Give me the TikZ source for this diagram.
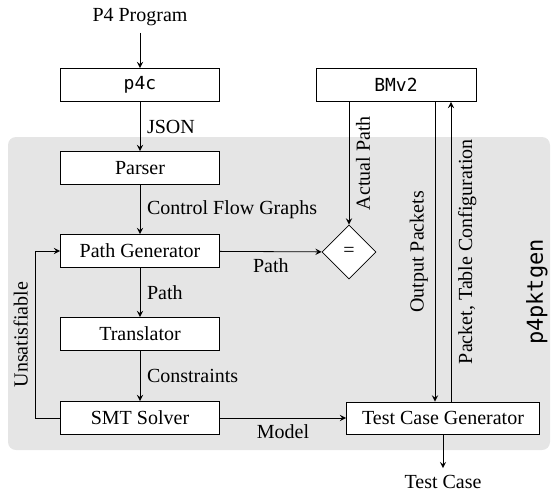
\documentclass[tikz,border=0pt]{standalone}
\usepackage{fontspec}
\setmainfont{Liberation Serif}
\setmonofont{DejaVu Sans Mono}
\usetikzlibrary{shapes.geometric}

\tikzset{
  stage/.style={draw, fill=white, minimum width=79.5pt, minimum height=16.5pt, inner sep=0pt},
  check/.style={draw, fill=white, diamond, minimum size=27pt, inner sep=0pt},
  side/.style={midway, rotate=90}
}
\newcommand{\tool}[1]{{\small\ttfamily #1}}

\begin{document}
\begin{tikzpicture}[x=0.5pt,y=-0.5pt]
  \useasboundingbox (0,0) rectangle (553,495);
  % shaded area of the generator
  \fill[black!10, rounded corners=4pt] (8,137) rectangle (550,450);
  % left column
  \node (prog) at (140,17) {P4 Program};
  \node[stage] (p4c) at (140,85) {\tool{p4c}};
  \node[stage] (parser) at (140,168) {Parser};
  \node[stage] (pathgen) at (140,251) {Path Generator};
  \node[stage] (trans) at (140,334) {Translator};
  \node[stage] (smt) at (140,418) {SMT Solver};
  % right side
  \node[stage, minimum width=80pt] (bmv2) at (396,85) {\tool{BMv2}};
  \node[check] (eq) at (349,252) {=};
  \node[stage, minimum width=96.5pt, minimum height=16pt] (tcg) at (443,418) {Test Case Generator};
  \node (tc) at (443,482) {Test Case};
  \node[rotate=90] (name) at (537,292) {\fontsize{11}{13}\selectfont\ttfamily p4pktgen};
  % x positions of the long lines
  \coordinate (back) at (35,0);
  \coordinate (outx) at (435,0);
  \coordinate (cfgx) at (451,0);
  % arrows
  \draw[-stealth] (prog) -- (p4c);
  \draw[-stealth] (p4c) -- node[right] {JSON} (parser);
  \draw[-stealth] (parser) -- node[right] {Control Flow Graphs} (pathgen);
  \draw[-stealth] (pathgen) -- node[right] {Path} (trans);
  \draw[-stealth] (trans) -- node[right] {Constraints} (smt);
  \draw[-stealth] (pathgen) -- node[below] {Path} (eq);
  \draw[-stealth] (eq.north |- bmv2.south) -- node[side, anchor=north] {Actual Path} (eq);
  \draw[-stealth] (outx |- bmv2.south) -- node[side, anchor=south] {Output Packets} (outx |- tcg.north);
  \draw[-stealth] (cfgx |- tcg.north) -- node[side, anchor=north] {Packet, Table Configuration} (cfgx |- bmv2.south);
  \draw[-stealth] (smt) -- (back |- smt.west) -- node[side, anchor=south] {Unsatisfiable} (back |- pathgen.west) -- (pathgen);
  \draw[-stealth] (smt) -- node[below] {Model} (tcg);
  \draw[-stealth] (tcg) -- (tc);
\end{tikzpicture}
\end{document}
